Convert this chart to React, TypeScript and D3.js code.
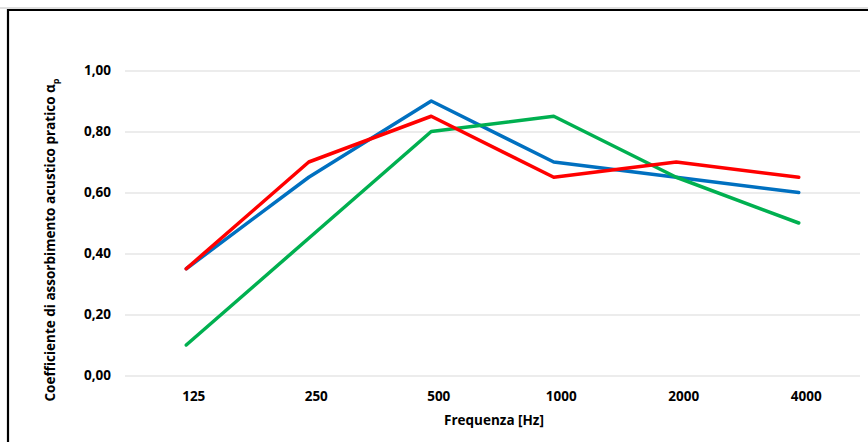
import { useEffect, useRef } from "react";
import { axisBottom, axisLeft, line, scaleBand, scaleLinear, select } from "d3";

const frequencies = ["125", "250", "500", "1000", "2000", "4000"];
const blueSeries = [0.35, 0.65, 0.9, 0.7, 0.65, 0.6];
const redSeries = [0.35, 0.7, 0.85, 0.65, 0.7, 0.65];
const greenSeries = [0.1, 0.45, 0.8, 0.85, 0.65, 0.5];
const yTicks = [0, 0.2, 0.4, 0.6, 0.8, 1.0];

const series = [
  { name: "blue", color: "#0070C0", values: blueSeries },
  { name: "green", color: "#00B050", values: greenSeries },
  { name: "red", color: "#FF0000", values: redSeries },
];

const width = 868;
const height = 442;
const marginLeft = 125;
const marginRight = 8;
const font = "'Open Sans', 'Noto Sans', sans-serif";

export default function App() {
  const gx = useRef<SVGGElement>(null);
  const gy = useRef<SVGGElement>(null);

  const x = scaleBand(frequencies, [marginLeft, width - marginRight]);
  const y = scaleLinear([0, 1], [375.5, 70.5]);

  const path = line<number>()
    .x((_, i) => (x(frequencies[i]) ?? 0) + x.bandwidth() / 2)
    .y((d) => y(d));

  useEffect(() => {
    document.body.style.margin = "0";
    document.body.style.overflow = "hidden";

    const ax = select(gx.current!).call(axisBottom(x).tickSize(0).tickPadding(0));
    ax.select(".domain").remove();
    ax.selectAll("text")
      .attr("dx", 7.5)
      .attr("dy", 0)
      .attr("y", 25)
      .attr("font-family", font)
      .attr("font-weight", "bold")
      .attr("font-size", 13.5)
      .attr("fill", "#000");

    const ay = select(gy.current!).call(
      axisLeft(y)
        .tickValues(yTicks)
        .tickSize(-(width - marginRight - marginLeft))
        .tickPadding(14)
        .tickFormat((d) => (d as number).toFixed(2).replace(".", ","))
    );
    ay.select(".domain").remove();
    ay.selectAll(".tick line").attr("stroke", "#d9d9d9").attr("stroke-width", 1.2);
    ay.selectAll("text")
      .attr("font-family", font)
      .attr("font-weight", "bold")
      .attr("font-size", 13.5)
      .attr("fill", "#000");
  }, []);

  return (
    <svg
      width={width}
      height={height}
      style={{ position: "absolute", left: 0, top: 0, background: "#fff", display: "block" }}
    >
      <line x1={0} x2={width} y1={8} y2={8} stroke="#bfbfbf" strokeWidth={1} />
      <line x1={7} x2={width} y1={10} y2={10} stroke="#000" strokeWidth={2.2} />
      <line x1={8} x2={8} y1={9} y2={height} stroke="#000" strokeWidth={2.2} />
      <g ref={gy} transform={`translate(${marginLeft},0)`} />
      <g ref={gx} transform={`translate(0,375.5)`} />
      {series.map((s) => (
        <path
          key={s.name}
          d={path(s.values) ?? ""}
          fill="none"
          stroke={s.color}
          strokeWidth={3.5}
          strokeLinejoin="round"
          strokeLinecap="round"
        />
      ))}
      <text
        x={494}
        y={425}
        textAnchor="middle"
        fontFamily={font}
        fontWeight="bold"
        fontSize={13.5}
      >
        Frequenza [Hz]
      </text>
      <text
        transform="translate(55,240) rotate(-90)"
        textAnchor="middle"
        fontFamily={font}
        fontWeight="bold"
        fontSize={13.5}
      >
        Coefficiente di assorbimento acustico pratico α
        <tspan fontSize={9} dy={4}>p</tspan>
      </text>
    </svg>
  );
}
